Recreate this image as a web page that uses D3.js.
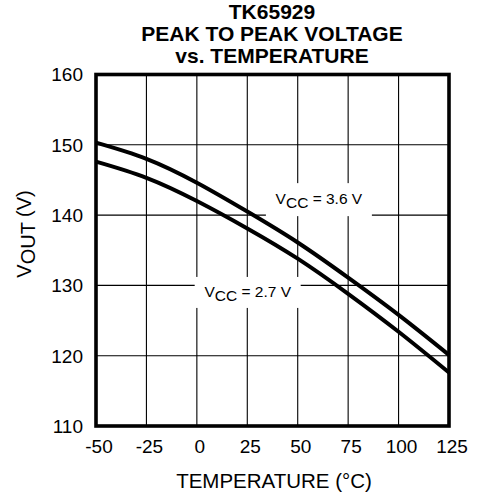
<!DOCTYPE html>
<html>
<head>
<meta charset="utf-8">
<script src="https://cdn.jsdelivr.net/npm/d3@7"></script>
<style>
  html, body { margin: 0; padding: 0; background: #fff; }
  svg { display: block; font-family: "Liberation Sans", Arial, sans-serif; }
</style>
</head>
<body>
<svg id="chart" width="479" height="496"></svg>
<script>
// ---- data ----
const temperatures = [-50, -25, 0, 25, 50, 75, 100, 125];
const vout36 = [150.3, 148.0, 144.6, 140.5, 136.1, 131.1, 125.8, 120.1];
const vout27 = [147.6, 145.3, 142.0, 138.1, 133.8, 128.8, 123.4, 117.6];
const xTicks = [-50, -25, 0, 25, 50, 75, 100, 125];
const yTicks = [110, 120, 130, 140, 150, 160];
const seriesNames = ["3.6 V", "2.7 V"];
const titleLines = ["TK65929", "PEAK TO PEAK VOLTAGE", "vs. TEMPERATURE"];

// ---- layout ----
const svg = d3.select("#chart");
const L = 96, R = 449, T = 74.5, B = 426;

const x = d3.scaleLinear().domain([-50, 125]).range([L, R]);
const y = d3.scaleLinear().domain([110, 160]).range([B, T]);

// grid
const g = svg.append("g");
g.selectAll(".vg").data(xTicks.slice(1, -1)).enter().append("line")
  .attr("x1", d => x(d)).attr("x2", d => x(d))
  .attr("y1", T).attr("y2", B)
  .attr("stroke", "#000").attr("stroke-width", 1.1);
g.selectAll(".hg").data(yTicks.slice(1, -1)).enter().append("line")
  .attr("x1", L).attr("x2", R)
  .attr("y1", d => y(d)).attr("y2", d => y(d))
  .attr("stroke", "#000").attr("stroke-width", 1.1);

// curves
const series = [vout36, vout27];
const line = d3.line()
  .x((d, i) => x(temperatures[i]))
  .y(d => y(d))
  .curve(d3.curveNatural);
svg.append("g").selectAll("path").data(series).enter().append("path")
  .attr("d", d => line(d))
  .attr("fill", "none")
  .attr("stroke", "#000")
  .attr("stroke-width", 4);

// labels with white boxes
const labelSpecs = [
  { name: seriesNames[0], t: 60.5, v: 142.2, w: 106, h: 33 },
  { name: seriesNames[1], t: 25.2, v: 129.0, w: 106, h: 31 }
];
labelSpecs.forEach(s => {
  const cx = x(s.t), cy = y(s.v);
  svg.append("rect")
    .attr("x", cx - s.w / 2).attr("y", cy - s.h / 2)
    .attr("width", s.w).attr("height", s.h)
    .attr("fill", "#fff");
  const txt = svg.append("text")
    .attr("x", cx).attr("y", cy + 4.5)
    .attr("text-anchor", "middle")
    .attr("font-size", 15.5);
  txt.append("tspan").text("V");
  txt.append("tspan").attr("dy", 4).text("CC");
  txt.append("tspan").attr("dy", -4).text(" = " + s.name);
});

// frame
svg.append("rect")
  .attr("x", L).attr("y", T).attr("width", R - L).attr("height", B - T)
  .attr("fill", "none").attr("stroke", "#000").attr("stroke-width", 3.6);

// tick labels
svg.append("g").selectAll("text").data(yTicks).enter().append("text")
  .attr("x", 83).attr("y", d => y(d))
  .attr("dy", "0.36em")
  .attr("text-anchor", "end")
  .attr("font-size", 19)
  .text(d => d);
svg.append("g").selectAll("text").data(xTicks).enter().append("text")
  .attr("x", d => x(d) + 3).attr("y", 453)
  .attr("text-anchor", "middle")
  .attr("font-size", 19)
  .text(d => d);

// axis titles
svg.append("text")
  .attr("x", 274).attr("y", 488)
  .attr("text-anchor", "middle")
  .attr("font-size", 20.5)
  .text("TEMPERATURE (\u00B0C)");
const yt = svg.append("text")
  .attr("transform", "translate(31,234) rotate(-90)")
  .attr("text-anchor", "middle")
  .attr("font-size", 20);
yt.append("tspan").text("V");
yt.append("tspan").attr("dy", 4).text("OUT");
yt.append("tspan").attr("dy", -4).text(" (V)");

// title
svg.append("g").selectAll("text").data(titleLines).enter().append("text")
  .attr("x", 272).attr("y", (d, i) => 19 + i * 22.2)
  .attr("text-anchor", "middle")
  .attr("font-size", 21)
  .attr("font-weight", "bold")
  .text(d => d);
</script>
</body>
</html>
